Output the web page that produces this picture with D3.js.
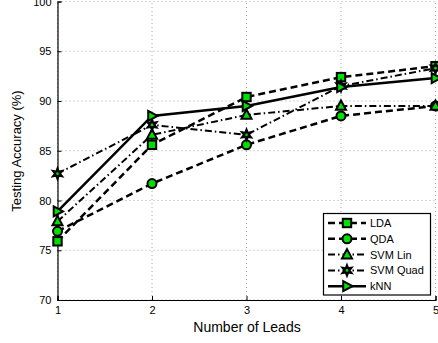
<!DOCTYPE html>
<html><head><meta charset="utf-8">
<script src="https://cdn.jsdelivr.net/npm/d3@7"></script>
<style>body{margin:0;background:#fff}svg{display:block}</style>
</head><body><svg id="c" width="438" height="343"></svg>
<script>
const leads = [1, 2, 3, 4, 5];
const ldaVals = [75.9, 85.6, 90.4, 92.4, 93.5];
const qdaVals = [76.9, 81.7, 85.6, 88.5, 89.5];
const svmLinVals = [77.9, 86.6, 88.6, 89.5, 89.5];
const svmQuadVals = [82.7, 87.6, 86.6, 91.5, 93.3];
const knnVals = [78.9, 88.5, 89.5, 91.4, 92.3];
const seriesNames = ["LDA", "QDA", "SVM Lin", "SVM Quad", "kNN"];
const yTicks = [70, 75, 80, 85, 90, 95, 100];
const xTicks = [1, 2, 3, 4, 5];

const series = [
  {name: seriesNames[0], vals: ldaVals, marker: "square", dash: "7,4", w: 2.5},
  {name: seriesNames[1], vals: qdaVals, marker: "circle", dash: "7,4", w: 2.5},
  {name: seriesNames[2], vals: svmLinVals, marker: "triangle", dash: "7,3,1.5,3", w: 2},
  {name: seriesNames[3], vals: svmQuadVals, marker: "star", dash: "7,3,1.5,3", w: 2},
  {name: seriesNames[4], vals: knnVals, marker: "tri-right", dash: null, w: 2.5}
];

const svg = d3.select("#c");
const x = d3.scaleLinear().domain([1, 5]).range([57.5, 435.5]);
const y = d3.scaleLinear().domain([70, 100]).range([300, 1.5]);
const green = "#00e000";
const font = "'Liberation Sans', Arial, Helvetica, sans-serif";

// grid
const g = svg.append("g");
g.selectAll("line.gy").data(yTicks).enter().append("line")
  .attr("x1", x(1)).attr("x2", x(5)).attr("y1", d => y(d)).attr("y2", d => y(d))
  .attr("stroke", "#aaa").attr("stroke-width", 1).attr("stroke-dasharray", "1,3");
g.selectAll("line.gx").data(xTicks).enter().append("line")
  .attr("y1", y(70)).attr("y2", y(100)).attr("x1", d => x(d)).attr("x2", d => x(d))
  .attr("stroke", "#aaa").attr("stroke-width", 1).attr("stroke-dasharray", "1,3");

// axes
const yAxis = d3.axisLeft(y).tickValues(yTicks).tickFormat(d3.format("d")).tickSize(-4).tickPadding(6);
const xAxis = d3.axisBottom(x).tickValues(xTicks).tickFormat(d3.format("d")).tickSize(-4).tickPadding(6);
const ya = svg.append("g").attr("transform", `translate(${x(1)},0)`).call(yAxis);
const xa = svg.append("g").attr("transform", `translate(0,${y(70)})`).call(xAxis);
[ya, xa].forEach(a => {
  a.select(".domain").attr("stroke", "#000").attr("stroke-width", 1.2);
  a.selectAll(".tick line").attr("stroke", "#000");
  a.selectAll("text").attr("font-family", font).attr("font-size", 11).attr("fill", "#000");
});

// symbols
function drawMarker(sel, type, cx, cy) {
  let el;
  if (type === "square") {
    el = sel.append("rect").attr("x", cx - 4.2).attr("y", cy - 4.2).attr("width", 8.4).attr("height", 8.4);
  } else if (type === "circle") {
    el = sel.append("circle").attr("cx", cx).attr("cy", cy).attr("r", 4.5);
  } else if (type === "triangle") {
    el = sel.append("path").attr("d", `M${cx},${cy-5.5}L${cx+5},${cy+3.8}L${cx-5},${cy+3.8}Z`);
  } else if (type === "tri-right") {
    el = sel.append("path").attr("d", `M${cx+5.5},${cy}L${cx-3.8},${cy-5}L${cx-3.8},${cy+5}Z`);
  } else if (type === "star") {
    const pts = [];
    for (let i = 0; i < 12; i++) {
      const a = -Math.PI / 2 + i * Math.PI / 6;
      const r = i % 2 === 0 ? 6 : 2.8;
      pts.push([cx + r * Math.cos(a), cy + r * Math.sin(a)]);
    }
    sel.append("path").attr("d", "M" + pts.map(p => p.join(",")).join("L") + "Z")
      .attr("fill", "#000").attr("stroke", "#000").attr("stroke-width", 1.5);
    sel.append("circle").attr("cx", cx).attr("cy", cy).attr("r", 1.3).attr("fill", green);
    return;
  }
  el.attr("fill", green).attr("stroke", "#000").attr("stroke-width", 2);
}

const line = d3.line().x((d, i) => x(leads[i])).y(d => y(d));
series.forEach(s => {
  svg.append("path").attr("d", line(s.vals)).attr("fill", "none")
    .attr("stroke", "#000").attr("stroke-width", s.w)
    .attr("stroke-dasharray", s.dash);
});
series.forEach(s => {
  const gm = svg.append("g");
  s.vals.forEach((v, i) => drawMarker(gm, s.marker, x(leads[i]), y(v)));
});

// legend
const lg = svg.append("g");
lg.append("rect").attr("x", 323.5).attr("y", 213.5).attr("width", 107).attr("height", 81.5)
  .attr("fill", "#fff").attr("stroke", "#000").attr("stroke-width", 1.2);
series.forEach((s, i) => {
  const ly = 223 + i * 15.8;
  lg.append("line").attr("x1", 328).attr("x2", 366).attr("y1", ly).attr("y2", ly)
    .attr("stroke", "#000").attr("stroke-width", s.w).attr("stroke-dasharray", s.dash);
  drawMarker(lg, s.marker, 347, ly);
  lg.append("text").attr("x", 370).attr("y", ly + 4).text(s.name)
    .attr("font-family", font).attr("font-size", 11).attr("fill", "#000");
});

// labels
svg.append("text").attr("x", 247).attr("y", 332).attr("text-anchor", "middle")
  .attr("font-family", font).attr("font-size", 14).text("Number of Leads");
svg.append("text").attr("transform", "translate(21,151) rotate(-90)").attr("text-anchor", "middle")
  .attr("font-family", font).attr("font-size", 13).text("Testing Accuracy (%)");
</script></body></html>
